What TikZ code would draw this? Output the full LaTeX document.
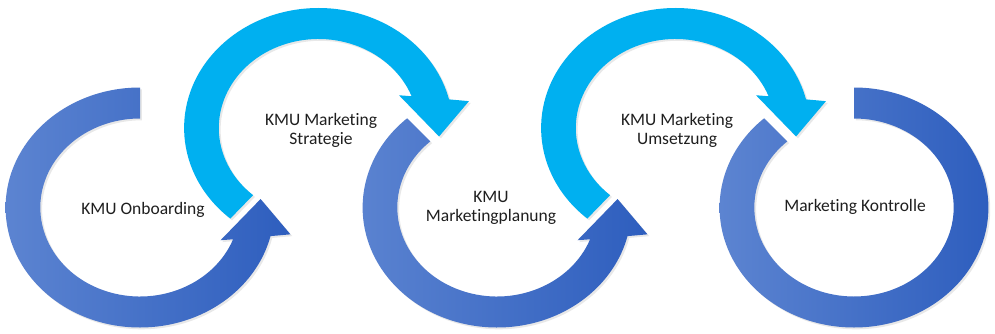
\documentclass[tikz,border=0pt]{standalone}
\usepackage{fontspec}
\setmainfont{Carlito}[RawFeature={-liga}]
\usetikzlibrary{shadows}
\definecolor{cyanarrow}{HTML}{00B0F0}
\definecolor{blueL}{HTML}{5C84D1}
\definecolor{blueR}{HTML}{2E5EBE}
\tikzset{
  ringshadow/.style={drop shadow={opacity=0.18, shadow xshift=1.8pt, shadow yshift=-1.8pt}},
  bluering/.style={left color=blueL, right color=blueR, draw=none, ringshadow},
  cyanring/.style={fill=cyanarrow, draw=none, ringshadow},
  lbl/.style={align=center, font=\fontsize{17.5}{19}\selectfont, text=black!88, inner sep=0pt}
}
\begin{document}
\begin{tikzpicture}[x=1pt,y=1pt]
\useasboundingbox (0,0) rectangle (995,333);
\fill[white] (0,0) rectangle (995,333);

% circle 1: counterclockwise, starts at top, arrowhead at right
\begin{scope}[shift={(140,125.5)}, xscale=1.12]
\path[bluering] (90:120) arc[start angle=90, end angle=346.2, radius=120]
  -- (348.7:137) -- (364.5:108) -- (335.5:79) -- (339.1:89)
  arc[start angle=339.1, end angle=90, radius=89] -- cycle;
\end{scope}

% circle 2: cyan, clockwise
\begin{scope}[shift={(318.5,205)}, xscale=1.12]
\path[cyanring] (229:120) arc[start angle=229, end angle=13.8, radius=120]
  -- (11.3:137) -- (-4.5:108) -- (24.5:79) -- (20.9:89)
  arc[start angle=20.9, end angle=229, radius=89] -- cycle;
\end{scope}

% circle 3: counterclockwise, starts at upper left
\begin{scope}[shift={(497,125.5)}, xscale=1.12]
\path[bluering] (132:120) arc[start angle=132, end angle=346.2, radius=120]
  -- (348.7:137) -- (364.5:108) -- (335.5:79) -- (339.1:89)
  arc[start angle=339.1, end angle=132, radius=89] -- cycle;
\end{scope}

% circle 4: cyan, clockwise
\begin{scope}[shift={(675.5,205)}, xscale=1.12]
\path[cyanring] (229:120) arc[start angle=229, end angle=13.8, radius=120]
  -- (11.3:137) -- (-4.5:108) -- (24.5:79) -- (20.9:89)
  arc[start angle=20.9, end angle=229, radius=89] -- cycle;
\end{scope}

% circle 5: clockwise ring, no arrowhead
\begin{scope}[shift={(854,125.5)}, xscale=1.12]
\path[bluering] (90:120) arc[start angle=90, end angle=-228, radius=120]
  -- (-228:89) arc[start angle=-228, end angle=90, radius=89] -- cycle;
\end{scope}

\node[lbl] (onb) at (143,123) {KMU Onboarding};
\node[lbl] (str) at (321,203) {KMU Marketing\\Strategie};
\node[lbl] (pla) at (491,125) {KMU\\Marketingplanung};
\node[lbl] (ums) at (677,203) {KMU Marketing\\Umsetzung};
\node[lbl] (kon) at (855,126) {Marketing Kontrolle};
\end{tikzpicture}
\end{document}
